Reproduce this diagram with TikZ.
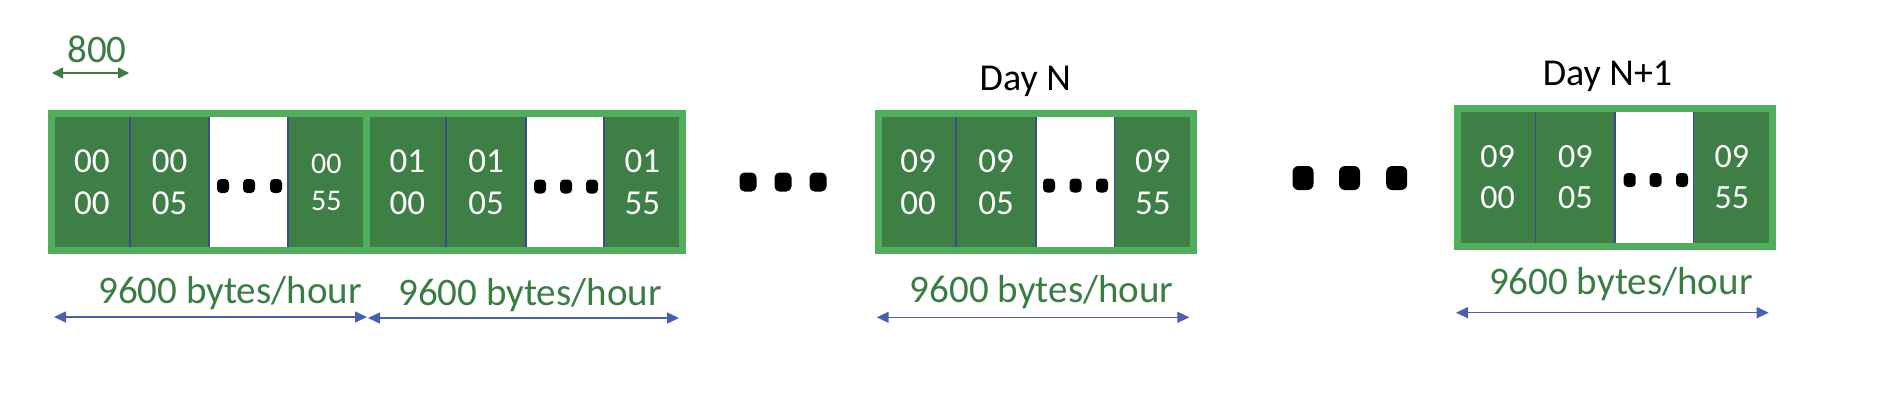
\documentclass[tikz,border=0pt]{standalone}
\usepackage{fontspec}
\setmainfont{Carlito}
\usetikzlibrary{arrows.meta}
\definecolor{cellgreen}{RGB}{62,127,70}
\definecolor{rimgreen}{RGB}{80,174,92}
\definecolor{divblue}{RGB}{60,75,140}
\definecolor{arrblue}{RGB}{74,95,176}
\definecolor{labgreen}{RGB}{58,125,68}
\begin{document}
\begin{tikzpicture}[x=1pt,y=-1pt,
  cell/.style={rectangle, fill=cellgreen, draw=divblue, line width=1.5pt, inner sep=0pt,
    minimum height=133pt, text=white, align=center, font=\fontsize{35}{42}\selectfont},
  cellsm/.style={cell, font=\fontsize{30}{37}\selectfont},
  cellmd/.style={cell, minimum height=134pt, font=\fontsize{34}{41}\selectfont},
  gapcell/.style={cell, fill=white},
  rim/.style={rectangle, draw=rimgreen, line width=7pt, inner sep=0pt},
  sdot/.style={rectangle, fill=black, rounded corners=4pt, inner sep=0pt, minimum width=12pt, minimum height=14pt},
  mdot/.style={rectangle, fill=black, rounded corners=5pt, inner sep=0pt, minimum width=17pt, minimum height=19pt},
  bdot/.style={rectangle, fill=black, rounded corners=6pt, inner sep=0pt, minimum width=21pt, minimum height=24pt},
  lab/.style={text=labgreen, font=\fontsize{39}{45}\selectfont, anchor=base, inner sep=0pt},
  daylab/.style={text=black, font=\fontsize{38}{44}\selectfont, anchor=base, inner sep=0pt},
  barrow/.style={draw=arrblue, line width=1.5pt, {Triangle[length=12pt,width=11pt]}-{Triangle[length=12pt,width=11pt]}},
  garrow/.style={draw=labgreen, line width=1.5pt, {Triangle[length=11pt,width=11pt]}-{Triangle[length=11pt,width=11pt]}}
]
\useasboundingbox[fill=white] (0,0) rectangle (1878,418);

% 800 marker
\node[lab] (l800) at (97,62.5) {800};
\coordinate (g1) at (52,73);
\coordinate (g2) at (129,73);
\draw[garrow] (g1) -- (g2);

% Box 1
\node[cell, minimum width=76.5pt] (a1) at (91.75,182) {00\\00};
\node[cell, minimum width=79pt] (a2) at (169.5,182) {00\\05};
\node[gapcell, minimum width=79pt] (a3) at (248.5,182) {};
\node[cellsm, minimum width=76.5pt] (a4) at (326.25,182) {00\\55};
\node[rim, minimum width=315pt, minimum height=137pt] (r1) at (209,182) {};
\node[sdot] (ad1) at (223,186) {};
\node[sdot] (ad2) at (249,186) {};
\node[sdot] (ad3) at (276,186) {};

% Box 2
\node[cell, minimum width=77.5pt] (b1) at (407.25,182) {01\\00};
\node[cell, minimum width=80pt] (b2) at (486,182) {01\\05};
\node[gapcell, minimum width=78pt] (b3) at (565,182) {};
\node[cell, minimum width=76.5pt] (b4) at (642.25,182) {01\\55};
\node[rim, minimum width=316pt, minimum height=137pt] (r2) at (524.5,182) {};
\node[sdot] (bd1) at (540,186.5) {};
\node[sdot] (bd2) at (566,186.5) {};
\node[sdot] (bd3) at (592,186.5) {};

% Middle dots
\node[mdot] (m1) at (748,182) {};
\node[mdot] (m2) at (783,182) {};
\node[mdot] (m3) at (818,182) {};

% Box 3 (Day N)
\node[daylab] (dayn) at (1025.3,90.7) {Day N};
\node[cell, minimum width=76pt] (c1) at (918,182) {09\\00};
\node[cell, minimum width=80pt] (c2) at (996,182) {09\\05};
\node[gapcell, minimum width=78.3pt] (c3) at (1075.15,182) {};
\node[cell, minimum width=77.2pt] (c4) at (1152.9,182) {09\\55};
\node[rim, minimum width=315.5pt, minimum height=137pt] (r3) at (1035.75,182) {};
\node[sdot] (cd1) at (1049,185.5) {};
\node[sdot] (cd2) at (1075.5,185.5) {};
\node[sdot] (cd3) at (1102,185.5) {};

% Right dots
\node[bdot] (n1) at (1303,178) {};
\node[bdot] (n2) at (1349.5,178) {};
\node[bdot] (n3) at (1396.7,178) {};

% Box 4 (Day N+1)
\node[daylab] (daynp) at (1607.5,85) {Day N+1};
\node[cellmd, minimum width=76.2pt] (e1) at (1497.6,177.5) {09\\00};
\node[cellmd, minimum width=79.3pt] (e2) at (1575.35,177.5) {09\\05};
\node[gapcell, minimum height=134pt, minimum width=78.3pt] (e3) at (1654.15,177.5) {};
\node[cellmd, minimum width=77.2pt] (e4) at (1731.9,177.5) {09\\55};
\node[rim, minimum width=315pt, minimum height=138pt] (r4) at (1615,177.5) {};
\node[sdot] (ed1) at (1629.7,180) {};
\node[sdot] (ed2) at (1655.5,180) {};
\node[sdot] (ed3) at (1682,180) {};

% Labels and arrows
\node[lab] (t1) at (230,303) {9600 bytes/hour};
\node[lab] (t2) at (530,305) {9600 bytes/hour};
\node[lab] (t3) at (1041.7,302.7) {9600 bytes/hour};
\node[lab] (t4) at (1620.8,294) {9600 bytes/hour};

\coordinate (p1a) at (54,317);     \coordinate (p1b) at (367,317);
\coordinate (p2a) at (368,318);    \coordinate (p2b) at (679,318);
\coordinate (p3a) at (876.7,317.3); \coordinate (p3b) at (1189.3,317.3);
\coordinate (p4a) at (1456,312.7); \coordinate (p4b) at (1768.7,312.7);
\draw[barrow] (p1a) -- (p1b);
\draw[barrow] (p2a) -- (p2b);
\draw[barrow] (p3a) -- (p3b);
\draw[barrow] (p4a) -- (p4b);
\end{tikzpicture}
\end{document}
